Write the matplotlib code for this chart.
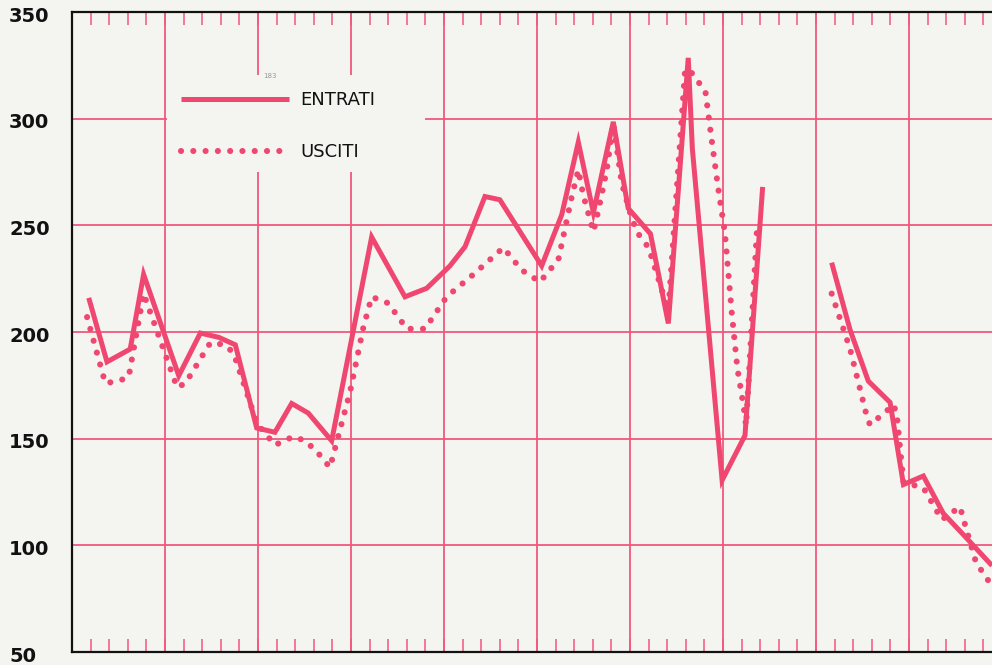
import matplotlib
matplotlib.use("Agg")
import matplotlib.pyplot as plt
from matplotlib.ticker import MultipleLocator
from matplotlib.patches import Rectangle
import numpy as np

# posizioni lungo l'asse (1 unità = una tacca minore)
entrati_x = [0.9, 1.88, 3.13, 3.85, 5.74, 6.9, 7.89, 8.78, 9.93, 10.91, 11.81, 12.7, 13.96,
             16.11, 17.9, 19.07, 20.32, 21.13, 22.2, 23.0, 25.25, 26.33, 27.22, 28.03, 29.1,
             29.9, 31.1, 32.06, 33.13, 33.35, 34.95, 36.18, 37.13, np.nan,
             40.84, 41.83, 42.81, 43.98, 44.7, 45.77, 46.84, 47.92, 49.46]
entrati = [216, 186, 192, 227, 179.5, 199.5, 197.5, 194, 155, 153, 166.5, 162, 149,
           244.5, 216.5, 220.5, 231, 240, 263.5, 262, 231, 255, 289, 256, 298.5,
           258, 246, 204, 328.5, 286, 130.5, 151.5, 268, np.nan,
           232.5, 201, 177, 167, 128.5, 132.5, 115, 105, 90.5]

usciti_x = [0.81, 1.79, 2.5, 3.05, 3.85, 5.65, 6.1, 7.44, 8.24, 8.69, 9.95, 10.91, 11.9,
            12.53, 13.16, 13.87, 14.95, 15.66, 16.11, 17.0, 18.0, 18.98, 20.14, 21.58,
            23.19, 24.18, 25.16, 26.15, 26.87, 27.22, 27.49, 28.03, 28.3, 28.75, 29.1,
            29.55, 30.0, 30.36, 31.0, 32.06, 32.96, 33.23, 33.6, 34.05, 34.39, 34.73,
            35.1, 35.47, 35.77, 36.1, 36.24, 36.83, np.nan,
            40.84, 41.83, 42.73, 42.9, 43.8, 44.16, 44.34, 44.7, 45.77, 46.76, 47.74,
            48.1, 48.6, 49.26]
usciti = [207, 176, 177, 179, 218, 174, 176, 195, 194, 190, 157, 147, 151,
          149, 144, 136.5, 172, 202, 216.5, 213.5, 201.5, 201.5, 216.5, 227,
          239.5, 229, 223.5, 234, 263.5, 276, 264, 247, 257, 276, 298,
          270, 256, 247, 239.5, 210, 323, 322.5, 318, 313, 290, 268,
          246.5, 209, 183, 165.5, 156, 249, np.nan,
          218, 192, 160.5, 156.5, 163, 166, 161.5, 129.5, 127, 112, 118,
          107, 92, 83.5]

y_ticks = [50, 100, 150, 200, 250, 300, 350]

pink = "#ef476f"
grid_pink = "#f0587c"
paper = "#f4f4f1"

fig = plt.figure(figsize=(9.92, 6.65), dpi=100, facecolor=paper)
ax = fig.add_axes([72 / 992, 13 / 665, 1 - 72 / 992, 640 / 665])
ax.set_facecolor(paper)

ax.plot(entrati_x, entrati, color=pink, lw=3.6, solid_joinstyle="miter",
        solid_capstyle="butt", label="ENTRATI", zorder=3)
ax.plot(usciti_x, usciti, color=pink, lw=4.4, linestyle=(0, (0.01, 2.0)),
        dash_capstyle="round", label="USCITI", zorder=3)

ax.set_xlim(0, 49.46)
ax.set_ylim(50, 350)
ax.xaxis.set_major_locator(MultipleLocator(5))
ax.xaxis.set_minor_locator(MultipleLocator(1))
ax.set_yticks(y_ticks)
ax.set_axisbelow(True)
ax.grid(True, which="major", color=grid_pink, lw=1.3)
ax.tick_params(axis="x", which="both", direction="in", top=True, bottom=True,
               length=9.5, width=1.1, color=grid_pink, labelbottom=False)
ax.tick_params(axis="y", length=0, labelleft=False)

for s in ["left", "top", "bottom"]:
    ax.spines[s].set_color("#111111")
    ax.spines[s].set_linewidth(1.6)
ax.spines["right"].set_visible(False)

# etichette asse y allineate a sinistra, un po' sotto la linea
label_off = ax.transAxes + matplotlib.transforms.ScaledTranslation(0, -4 / 100, fig.dpi_scale_trans)
for v in y_ticks:
    ax.text(-63 / 920, v, str(v),
            transform=matplotlib.transforms.blended_transform_factory(ax.transAxes, ax.transData)
            + matplotlib.transforms.ScaledTranslation(0, -4 / 100, fig.dpi_scale_trans),
            ha="left", va="center", fontsize=14, fontweight="bold",
            color="#111111", clip_on=False)

# zona bianca dietro la legenda
ax.add_patch(Rectangle((5.1, 275), 13.9, 45.5, facecolor=paper, edgecolor="none", zorder=1))

leg = ax.legend(loc="upper left", bbox_to_anchor=(100 / 920, 1 - 70 / 640), frameon=False,
                fontsize=13, handlelength=6.0, handletextpad=0.6, labelspacing=1.9,
                borderpad=0)
for t in leg.get_texts():
    t.set_color("#111111")

ax.text(10.3, 320, "183", fontsize=5, color="#999999", va="center", zorder=2)

fig.savefig("out.png", dpi=100, facecolor=paper)
